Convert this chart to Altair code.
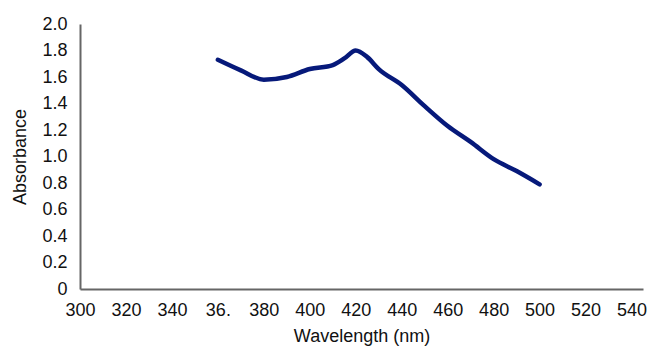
import altair as alt
import pandas as pd

wavelength = [360, 370, 380, 390, 400, 410, 415, 420, 425, 430, 440, 450, 460, 470, 480, 490, 500]
absorbance = [1.73, 1.65, 1.58, 1.60, 1.66, 1.69, 1.74, 1.80, 1.75, 1.66, 1.54, 1.38, 1.23, 1.11, 0.98, 0.89, 0.79]

x_ticks = [300, 320, 340, 360, 380, 400, 420, 440, 460, 480, 500, 520, 540]
y_ticks = [0, 0.2, 0.4, 0.6, 0.8, 1.0, 1.2, 1.4, 1.6, 1.8, 2.0]

df = pd.DataFrame({"wavelength": wavelength, "absorbance": absorbance})

FONT = "Liberation Sans"

chart = alt.Chart(df).mark_line(
    color="#06197a", strokeWidth=4.5, interpolate="monotone", strokeCap="round", strokeJoin="round"
).encode(
    x=alt.X(
        "wavelength:Q",
        scale=alt.Scale(domain=[300, 545], nice=False, zero=False),
        axis=alt.Axis(
            title="Wavelength (nm)",
            values=x_ticks,
            format="d",
            labelExpr="datum.value == 360 ? '36.' : datum.label",
            ticks=False,
            grid=False,
            labelPadding=12,
            titlePadding=8,
            labelFlush=False,
            labelOverlap=False,
        ),
    ),
    y=alt.Y(
        "absorbance:Q",
        scale=alt.Scale(domain=[0, 2.0], nice=False),
        axis=alt.Axis(
            title="Absorbance",
            values=y_ticks,
            labelExpr="datum.value == 0 ? '0' : format(datum.value, '.1f')",
            ticks=False,
            grid=False,
            labelPadding=13,
            titlePadding=12,
            labelFlush=False,
            labelOverlap=False,
        ),
    ),
).properties(
    width=563,
    height=265,
    autosize=alt.AutoSizeParams(type="none"),
    padding={"left": 72, "top": 16, "right": 6, "bottom": 58},
).configure_view(
    stroke=None
).configure_axis(
    domainColor="#666666",
    domainWidth=2,
    labelFont=FONT,
    titleFont=FONT,
    labelFontSize=18,
    titleFontSize=18,
    labelColor="#111111",
    titleColor="#111111",
    titleFontWeight="normal",
)

chart.save("out.html", embed_options={"renderer": "svg", "actions": False})
